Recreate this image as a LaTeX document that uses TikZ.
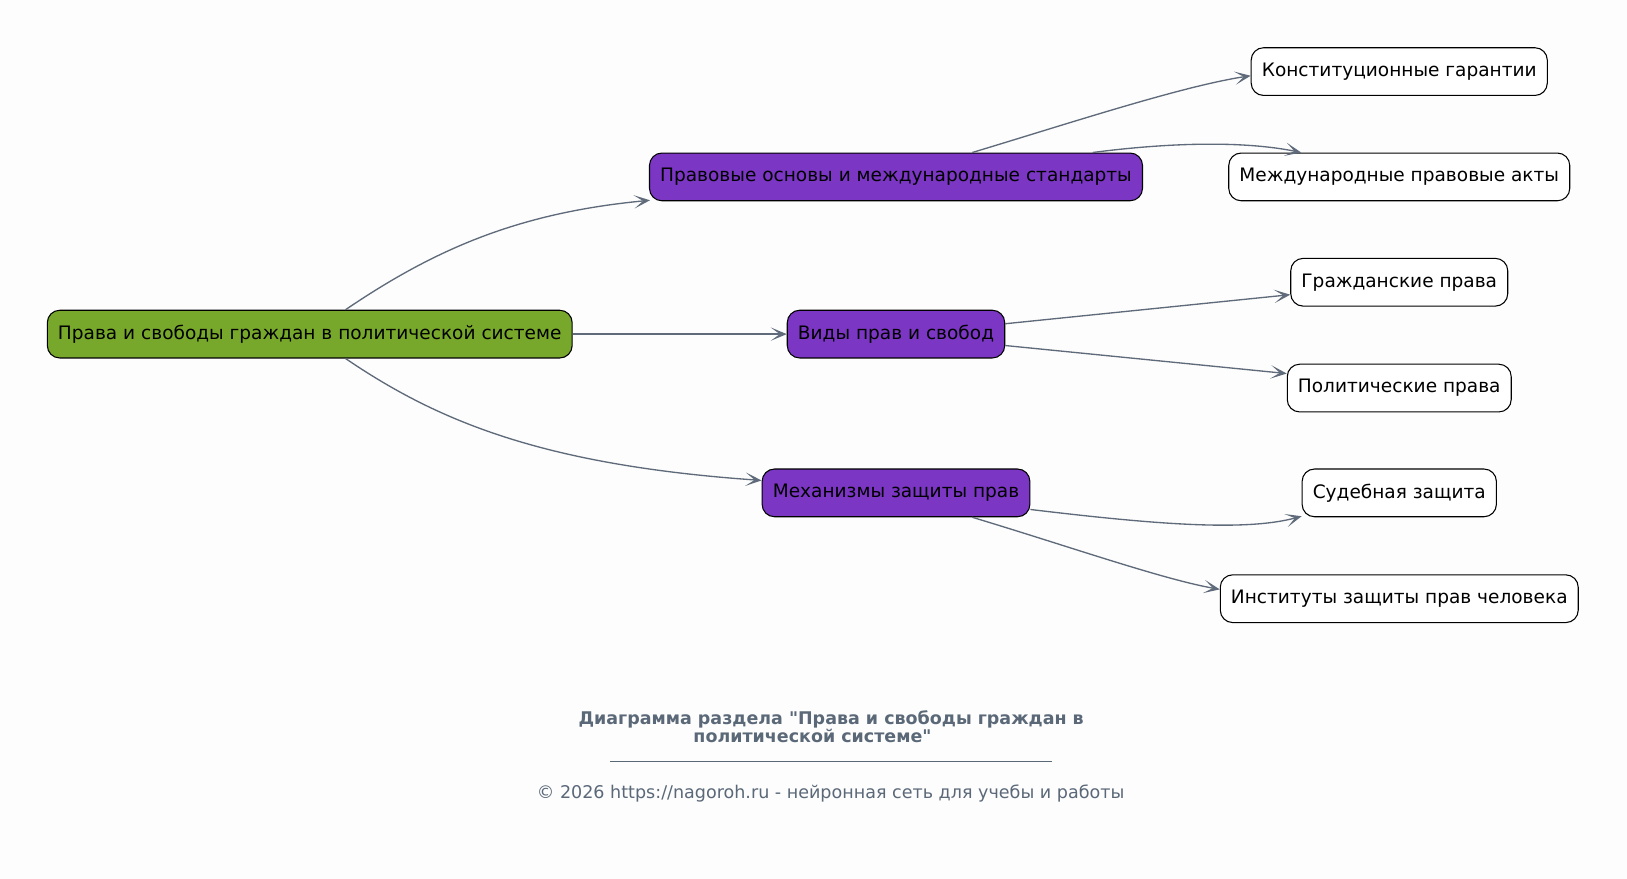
\documentclass[tikz,border=0pt]{standalone}
\usepackage{fontspec}
\setmainfont{DejaVu Sans}[Ligatures=TeXOff]
\usetikzlibrary{arrows.meta,calc}
\definecolor{bg}{HTML}{FDFDFD}
\definecolor{rootc}{HTML}{78A82B}
\definecolor{midc}{HTML}{7B36C4}
\definecolor{edgec}{HTML}{5F6B7A}
\definecolor{footc}{HTML}{5A6878}
\begin{document}
\begin{tikzpicture}[x=0.77822pt,y=-0.77822pt,
  box/.style={draw=black,line width=0.8pt,rounded corners=9.3pt,minimum height=35.8pt,inner xsep=8pt,font=\fontsize{13.9pt}{16pt}\selectfont,text=black},
  rootbox/.style={box,fill=rootc},
  midbox/.style={box,fill=midc},
  leafbox/.style={box,fill=white},
  conn/.style={draw=edgec,line width=1pt,-{Stealth[length=12pt,width=10pt,inset=6.8pt]}}]
\path[fill=bg] (0,0) rectangle (1568,847.1);
\useasboundingbox (0,0) rectangle (1568,847.1);
\node[rootbox] (root) at (298.5,322) {Права и свободы граждан в политической системе};
\node[midbox] (p1) at (863.5,170.5) {Правовые основы и международные стандарты};
\node[midbox] (p2) at (863.5,322) {Виды прав и свобод};
\node[midbox] (p3) at (863.5,475) {Механизмы защиты прав};
\node[leafbox] (l1) at (1348.5,69) {Конституционные гарантии};
\node[leafbox] (l2) at (1348.5,170.5) {Международные правовые акты};
\node[leafbox] (l3) at (1348.5,272) {Гражданские права};
\node[leafbox] (l4) at (1348.5,374) {Политические права};
\node[leafbox] (l5) at (1348.5,475) {Судебная защита};
\node[leafbox] (l6) at (1348.5,577) {Институты защиты прав человека};
\draw[conn] ($(root.north)+(34.5,0)$) .. controls +(87,-59) and +(-126,12) .. ($(p1.south west)+(1,-1)$);
\draw[conn] (root.east) -- (p2.west);
\draw[conn] ($(root.south)+(34.5,0)$) .. controls +(87,59) and +(-214,-15) .. ($(p3.west)+(0,-12)$);
\draw[conn] ($(p1.north)+(73.5,0)$) .. controls +(93,-28) and +(-66,10) .. ($(l1.west)+(0,4)$);
\draw[conn] ($(p1.north)+(189.5,0)$) .. controls +(77,-10) and +(-54,-11) .. ($(l2.north)+(-94.5,0)$);
\draw[conn] ($(p2.east)+(0,-10)$) -- ($(l3.west)+(0,12)$);
\draw[conn] ($(p2.east)+(0,11)$) -- ($(l4.west)+(0,-14)$);
\draw[conn] ($(p3.east)+(0,16)$) .. controls +(117,14) and +(-55,15) .. ($(l5.south west)+(0,-1)$);
\draw[conn] ($(p3.south)+(73.5,0)$) .. controls +(93,28) and +(-56,-10) .. ($(l6.west)+(0,-9)$);
\node[text=footc,font=\bfseries\fontsize{13.1pt}{13.3pt}\selectfont,align=center] (title) at (801,700) {Диаграмма раздела "Права и свободы граждан в\\политической системе"\hspace*{28pt}};
\node[inner sep=0pt,text=footc] (rule) at (801,734) {\rule{331pt}{0.7pt}};
\node[text=footc,font=\fontsize{13.15pt}{15pt}\selectfont] (copy) at (800.5,765) {© 2026 https://nagoroh.ru - нейронная сеть для учебы и работы};
\end{tikzpicture}
\end{document}
